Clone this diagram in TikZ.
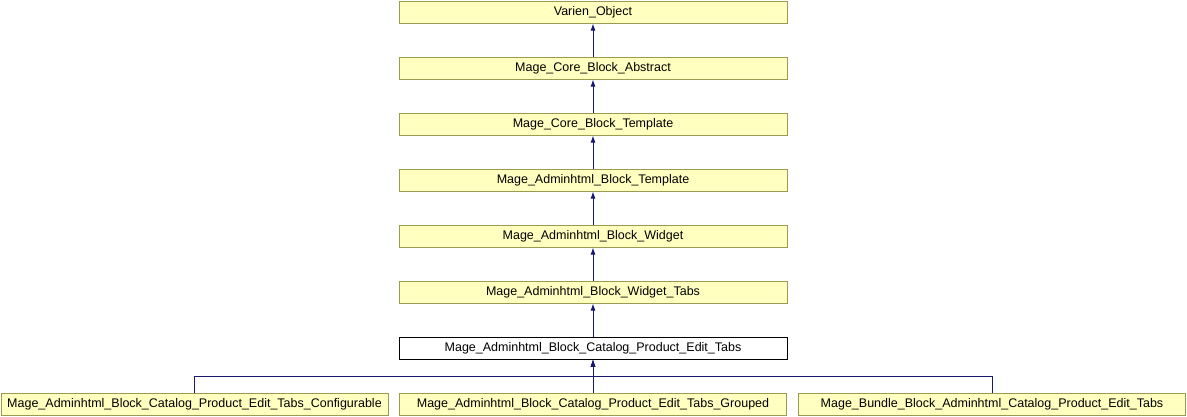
\documentclass[tikz,border=0pt]{standalone}
\usepackage{fontspec}
\setmainfont{Liberation Sans}
\usetikzlibrary{arrows.meta, positioning}
\definecolor{clsfill}{HTML}{FFFFC0}
\definecolor{clsdraw}{HTML}{9A9A50}
\definecolor{edgeblue}{HTML}{191970}

\begin{document}
\begin{tikzpicture}[x=1pt, y=-1pt,
    cls/.style={draw=clsdraw, fill=clsfill, line width=1pt, minimum width=388pt, minimum height=22pt, inner sep=0pt, font=\fontsize{12.5}{14}\selectfont},
    cur/.style={cls, draw=black, fill=white},
    edge/.style={draw=edgeblue, line width=1pt, -{Latex[length=7pt, width=5pt]}}]
    \useasboundingbox (0,0) rectangle (1187,416);

    % Inheritance chain
    \node[cls] (vo) at (593,12) {Varien\_Object};
    \node[cls] (cba) at (593,68) {Mage\_Core\_Block\_Abstract};
    \node[cls] (cbt) at (593,124) {Mage\_Core\_Block\_Template};
    \node[cls] (abt) at (593,180) {Mage\_Adminhtml\_Block\_Template};
    \node[cls] (abw) at (593,236) {Mage\_Adminhtml\_Block\_Widget};
    \node[cls] (abwt) at (593,292) {Mage\_Adminhtml\_Block\_Widget\_Tabs};
    \node[cur] (tabs) at (593,348) {Mage\_Adminhtml\_Block\_Catalog\_Product\_Edit\_Tabs};

    % Derived classes
    \node[cls, minimum width=387pt] (conf) at (194.5,404) {Mage\_Adminhtml\_Block\_Catalog\_Product\_Edit\_Tabs\_Configurable};
    \node[cls, minimum width=387pt] (grp) at (593,404) {Mage\_Adminhtml\_Block\_Catalog\_Product\_Edit\_Tabs\_Grouped};
    \node[cls, minimum width=387pt] (bnd) at (992,404) {Mage\_Bundle\_Block\_Adminhtml\_Catalog\_Product\_Edit\_Tabs};

    % Edges
    \foreach \c/\p in {cba/vo, cbt/cba, abt/cbt, abw/abt, abwt/abw, tabs/abwt, grp/tabs} {
        \draw[edge] (\c.north) -- (\p.south);
    }
    \coordinate (join) at (593,376);
    \draw[edge] (conf.north) |- (join) -- (tabs.south);
    \draw[edge] (bnd.north) |- (join) -- (tabs.south);
\end{tikzpicture}
\end{document}
